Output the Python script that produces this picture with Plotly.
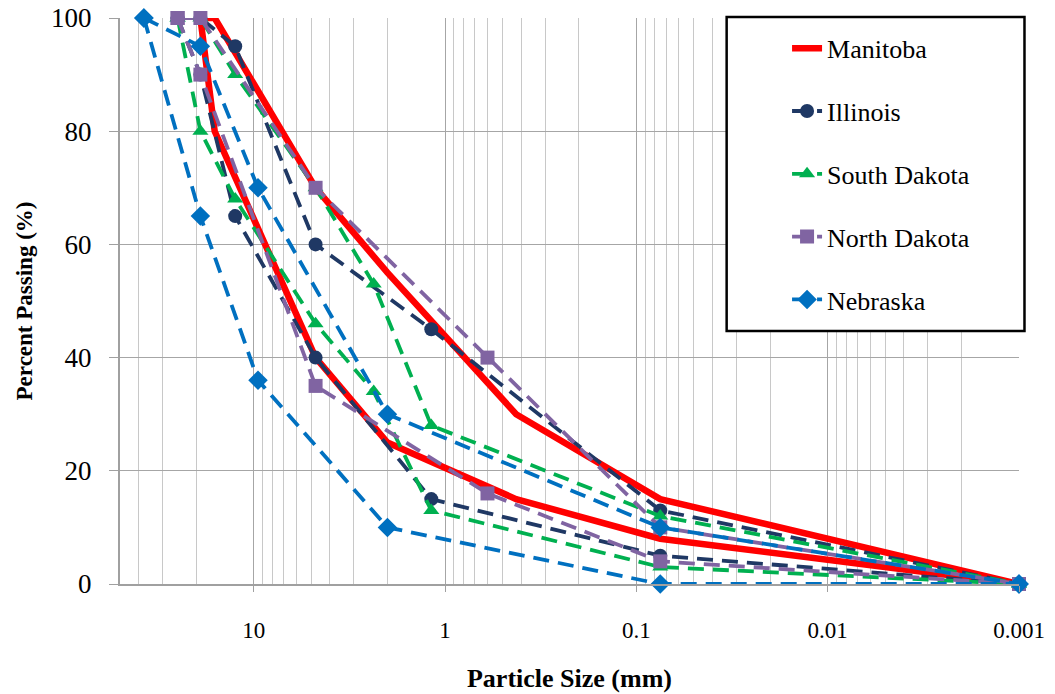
import math
import plotly.graph_objects as go

# ---------------- data ----------------
mb_size = [19, 16, 4.75, 2.0, 0.425, 0.075, 0.001]
mb_upper = [100, 100, 70, 55, 30, 15, 0]
mb_lower = [100, 80, 40, 25, 15, 8, 0]

il_size = [25, 19, 12.5, 4.75, 1.18, 0.075, 0.001]
il_upper = [100, 100, 95, 60, 45, 13, 0]
il_lower = [100, 90, 65, 40, 15, 5, 0]

sd_size = [25, 19, 12.5, 4.75, 2.36, 1.18, 0.075, 0.001]
sd_upper = [100, 100, 90, 70, 53, 28, 12, 0]
sd_lower = [100, 80, 68, 46, 34, 13, 3, 0]

nd_size = [25, 19, 4.75, 0.6, 0.075, 0.001]
nd_upper = [100, 100, 70, 40, 10, 0]
nd_lower = [100, 90, 35, 16, 4, 0]

ne_size = [37.5, 19, 9.5, 2.0, 0.075, 0.001]
ne_upper = [100, 95, 70, 30, 10, 0]
ne_lower = [100, 65, 36, 10, 0, 0]

x_major_vals = [10, 1, 0.1, 0.01, 0.001]
x_major_text = ["10", "1", "0.1", "0.01", "0.001"]
x_minor_vals = [50, 40, 30, 20,
                9, 8, 7, 6, 5, 4, 3, 2,
                0.9, 0.8, 0.7, 0.6, 0.5, 0.4, 0.3, 0.2,
                0.09, 0.08, 0.07, 0.06, 0.05, 0.04, 0.03, 0.02,
                0.009, 0.008, 0.007, 0.006, 0.005, 0.004, 0.003, 0.002]
y_ticks = [0, 20, 40, 60, 80, 100]

FONT = "Liberation Serif"

series = [
    ("Manitoba", mb_size, mb_upper, mb_lower, "#FF0000", None, "solid", 6.5),
    ("Illinois", il_size, il_upper, il_lower, "#1F3864", "circle", "16px,9px", 3.8),
    ("South Dakota", sd_size, sd_upper, sd_lower, "#00B050", "triangle-up", "16px,9px", 3.8),
    ("North Dakota", nd_size, nd_upper, nd_lower, "#8064A2", "square", "16px,9px", 3.8),
    ("Nebraska", ne_size, ne_upper, ne_lower, "#0070C0", "diamond", "16px,9px", 3.8),
]

fig = go.Figure()
for name, size, up, lo, color, sym, dash, lw in series:
    xs = list(size) + [None] + list(size)
    ys = list(up) + [None] + list(lo)
    kw = dict(mode="lines")
    if sym:
        kw = dict(mode="lines+markers",
                  marker=dict(symbol=sym, size=14 if sym != "diamond" else 15,
                              color=color, line=dict(width=0)))
    fig.add_trace(go.Scatter(
        x=xs, y=ys, name=name, legendgroup=name,
        line=dict(color=color, width=lw, dash=dash),
        cliponaxis=False, connectgaps=False, **kw))

fig.update_layout(
    width=1055, height=694,
    margin=dict(l=120, r=35.5, t=18, b=110, autoexpand=False),
    paper_bgcolor="white", plot_bgcolor="white",
    font=dict(family=FONT, color="black"),
    showlegend=True,
    legend=dict(
        x=0.742, y=0.988, xanchor="left", yanchor="top",
        bgcolor="rgba(0,0,0,0)", borderwidth=0,
        font=dict(family=FONT, size=26, color="black"),
        tracegroupgap=26, itemwidth=30,
    ),
    xaxis=dict(
        type="log",
        range=[math.log10(50), -3],
        automargin=False,
        tickmode="array", tickvals=x_major_vals, ticktext=x_major_text,
        ticks="outside", ticklen=6, tickcolor="#a0a0a0",
        ticklabelstandoff=18,
        tickfont=dict(family=FONT, size=23, color="black"),
        showgrid=True, gridcolor="#a6a6a6", gridwidth=1,
        minor=dict(tickmode="array", tickvals=x_minor_vals,
                   showgrid=True, gridcolor="#c8c8c8", gridwidth=1, ticks=""),
        showline=True, linecolor="#a0a0a0", linewidth=2,
        zeroline=False,
        title=dict(text="<b>Particle Size (mm)</b>",
                   font=dict(family=FONT, size=26, color="black"), standoff=27),
    ),
    yaxis=dict(
        range=[0, 100],
        automargin=False,
        tickmode="array", tickvals=y_ticks,
        ticks="outside", ticklen=9, tickcolor="#a0a0a0",
        ticklabelstandoff=12,
        tickfont=dict(family=FONT, size=27, color="black"),
        showgrid=True, gridcolor="#a6a6a6", gridwidth=1,
        showline=True, linecolor="#a0a0a0", linewidth=2,
        zeroline=False,
        title=dict(text="<b>Percent Passing (%)</b>",
                   font=dict(family=FONT, size=23, color="black"), standoff=12),
    ),
    shapes=[dict(type="rect", xref="paper", yref="paper",
                 x0=0.6748, x1=1.0061, y0=0.447, y1=1.0018,
                 line=dict(color="black", width=2.5),
                 fillcolor="white", layer="above")],
)

fig.write_html("out.html")
